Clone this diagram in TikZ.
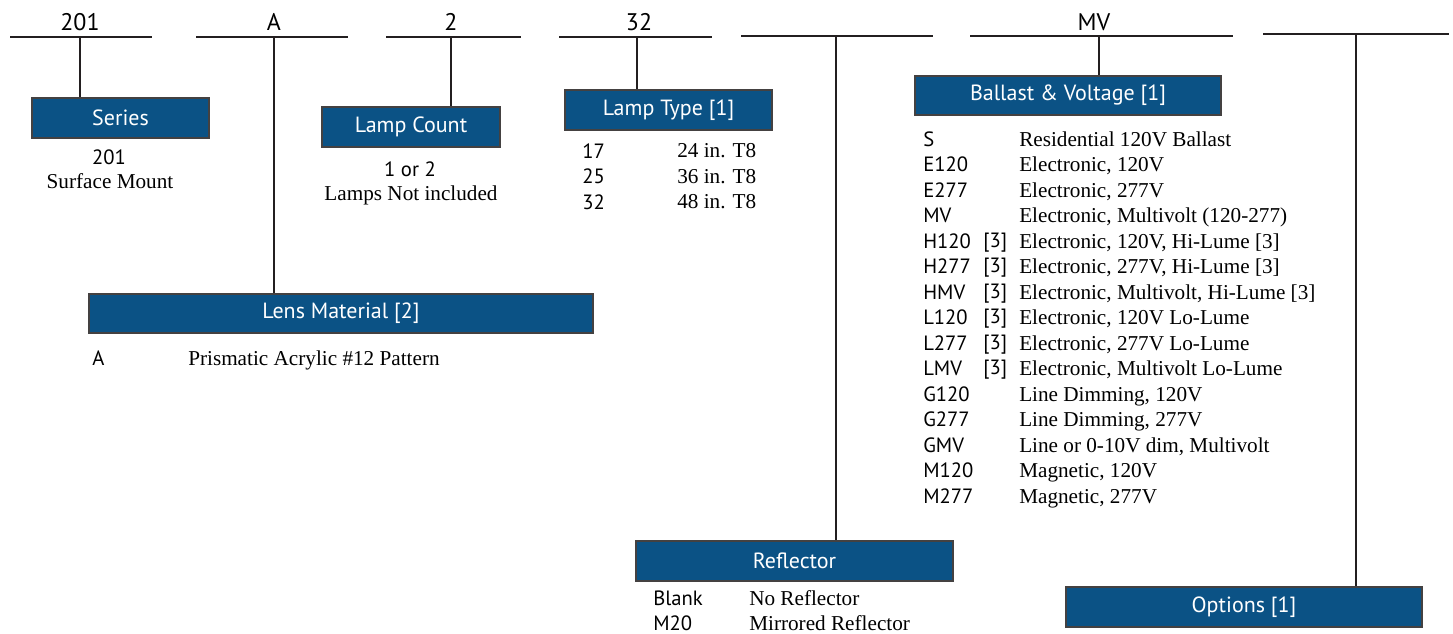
\documentclass[tikz,border=0pt]{standalone}
\usepackage{fontspec}
\setmainfont{Liberation Serif}
\newfontfamily\codefont{PT Sans}

\definecolor{boxblue}{HTML}{0B5285}
\definecolor{inkline}{HTML}{231F20}

\tikzset{
  slotline/.style={line width=2pt,draw=inkline},
  tieline/.style={line width=1.6pt,draw=inkline},
  catbox/.style={draw=inkline!85,line width=1.5pt,fill=boxblue,text=white,
    font=\codefont\fontsize{16.5}{19}\selectfont,minimum height=29.5pt,inner sep=0pt},
  slotlabel/.style={font=\codefont\fontsize{18}{20}\selectfont,anchor=base,inner sep=0pt},
  codecol/.style={font=\codefont\fontsize{15.5}{19.125}\selectfont,align=left,anchor=north west,inner sep=0pt},
  desccol/.style={font=\fontsize{15.9}{19.125}\selectfont,align=left,anchor=north west,inner sep=0pt},
  codeline/.style={font=\codefont\fontsize{15.5}{19}\selectfont,anchor=base,inner sep=0pt},
  descline/.style={font=\fontsize{15.9}{19}\selectfont,anchor=base,inner sep=0pt},
}

\begin{document}
\begin{tikzpicture}[x=0.75pt,y=-0.75pt]
            \useasboundingbox (0,0) rectangle (1453,633);
            % ordering code slots
            \coordinate (s1a) at (10,37);   \coordinate (s1b) at (152,37);
            \coordinate (s2a) at (196,37);  \coordinate (s2b) at (348,37);
            \coordinate (s3a) at (386,37);  \coordinate (s3b) at (521,37);
            \coordinate (s4a) at (559,37);  \coordinate (s4b) at (712,37);
            \coordinate (s5a) at (741,36);  \coordinate (s5b) at (933,36);
            \coordinate (s6a) at (970,36);  \coordinate (s6b) at (1233,36);
            \coordinate (s7a) at (1263,34); \coordinate (s7b) at (1449,34);
            \draw [slotline] (s1a)--(s1b);
            \draw [slotline] (s2a)--(s2b);
            \draw [slotline] (s3a)--(s3b);
            \draw [slotline] (s4a)--(s4b);
            \draw [slotline] (s5a)--(s5b);
            \draw [slotline] (s6a)--(s6b);
            \draw [slotline] (s7a)--(s7b);
            \node (c1) at (80,30)[slotlabel]{201};
            \node (c2) at (274,30)[slotlabel]{A};
            \node (c3) at (451,30)[slotlabel]{2};
            \node (c4) at (639,30)[slotlabel]{32};
            \node (c6) at (1094,30)[slotlabel]{MV};
            \coordinate (t1) at (80,37);
            \coordinate (t2) at (274,37);
            \coordinate (t3) at (451,37);
            \coordinate (t4) at (637,37);
            \coordinate (t5) at (836,36);
            \coordinate (t6) at (1099,36);
            \coordinate (t7) at (1356,34);

            % category boxes
            \node (series) at (120.5,118)[catbox,minimum width=132.75pt]{Series};
            \node (lampcount) at (411,127)[catbox,minimum width=133.5pt]{Lamp Count};
            \node (lamptype) at (668.5,110)[catbox,minimum width=155.25pt]{Lamp Type [1]};
            \node (ballast) at (1068,95.5)[catbox,minimum width=229.5pt]{Ballast \& Voltage [1]};
            \node (lens) at (341,313.5)[catbox,minimum width=378pt]{Lens Material [2]};
            \node (reflector) at (794.5,561)[catbox,minimum width=237.4pt]{Reflector};
            \node (options) at (1244,607)[catbox,minimum width=267pt]{Options [1]};

            \draw [tieline] (t1)--(t1 |- series.north);
            \draw [tieline] (t2)--(t2 |- lens.north);
            \draw [tieline] (t3)--(t3 |- lampcount.north);
            \draw [tieline] (t4)--(t4 |- lamptype.north);
            \draw [tieline] (t5)--(t5 |- reflector.north);
            \draw [tieline] (t6)--(t6 |- ballast.north);
            \draw [tieline] (t7)--(t7 |- options.north);

            % choices
            \node (seriescode) at (109,164)[codeline]{201};
            \node (seriesdesc) at (110,188)[descline]{Surface Mount};
            \node (countcode) at (410,176)[codeline]{1 or 2};
            \node (countdesc) at (411,200)[descline]{Lamps Not included};
            \node (typecodes) at (582,143.5)[codecol]{17\\25\\32};
            \node (typedescs) at (677,143.5)[desccol]{24 in. T8\\36 in. T8\\48 in. T8};
            \node (lenscode) at (92,365)[codeline,anchor=base west]{A};
            \node (lensdesc) at (188,365)[descline,anchor=base west]{Prismatic Acrylic \#12 Pattern};
            \node (ballastcodes) at (923,131.5)[codecol]{S\\E120\\E277\\MV\\H120\\H277\\HMV\\L120\\L277\\LMV\\G120\\G277\\GMV\\M120\\M277};
            \node (ballastnotes) at (983,232.5)[codecol]{{[3]}\\{[3]}\\{[3]}\\{[3]}\\{[3]}\\{[3]}};
            \node (ballastdescs) at (1019,131.5)[desccol]{Residential 120V Ballast\\Electronic, 120V\\Electronic, 277V\\Electronic, Multivolt (120-277)\\Electronic, 120V, Hi-Lume [3]\\Electronic, 277V, Hi-Lume [3]\\Electronic, Multivolt, Hi-Lume [3]\\Electronic, 120V Lo-Lume\\Electronic, 277V Lo-Lume\\Electronic, Multivolt Lo-Lume\\Line Dimming, 120V\\Line Dimming, 277V\\Line or 0-10V dim, Multivolt\\Magnetic, 120V\\Magnetic, 277V};
            \node (reflcode1) at (653,605)[codeline,anchor=base west]{Blank};
            \node (reflcode2) at (653,630)[codeline,anchor=base west]{M20};
            \node (refldesc1) at (749,605)[descline,anchor=base west]{No Reflector};
            \node (refldesc2) at (749,630)[descline,anchor=base west]{Mirrored Reflector};
        \end{tikzpicture}
\end{document}
